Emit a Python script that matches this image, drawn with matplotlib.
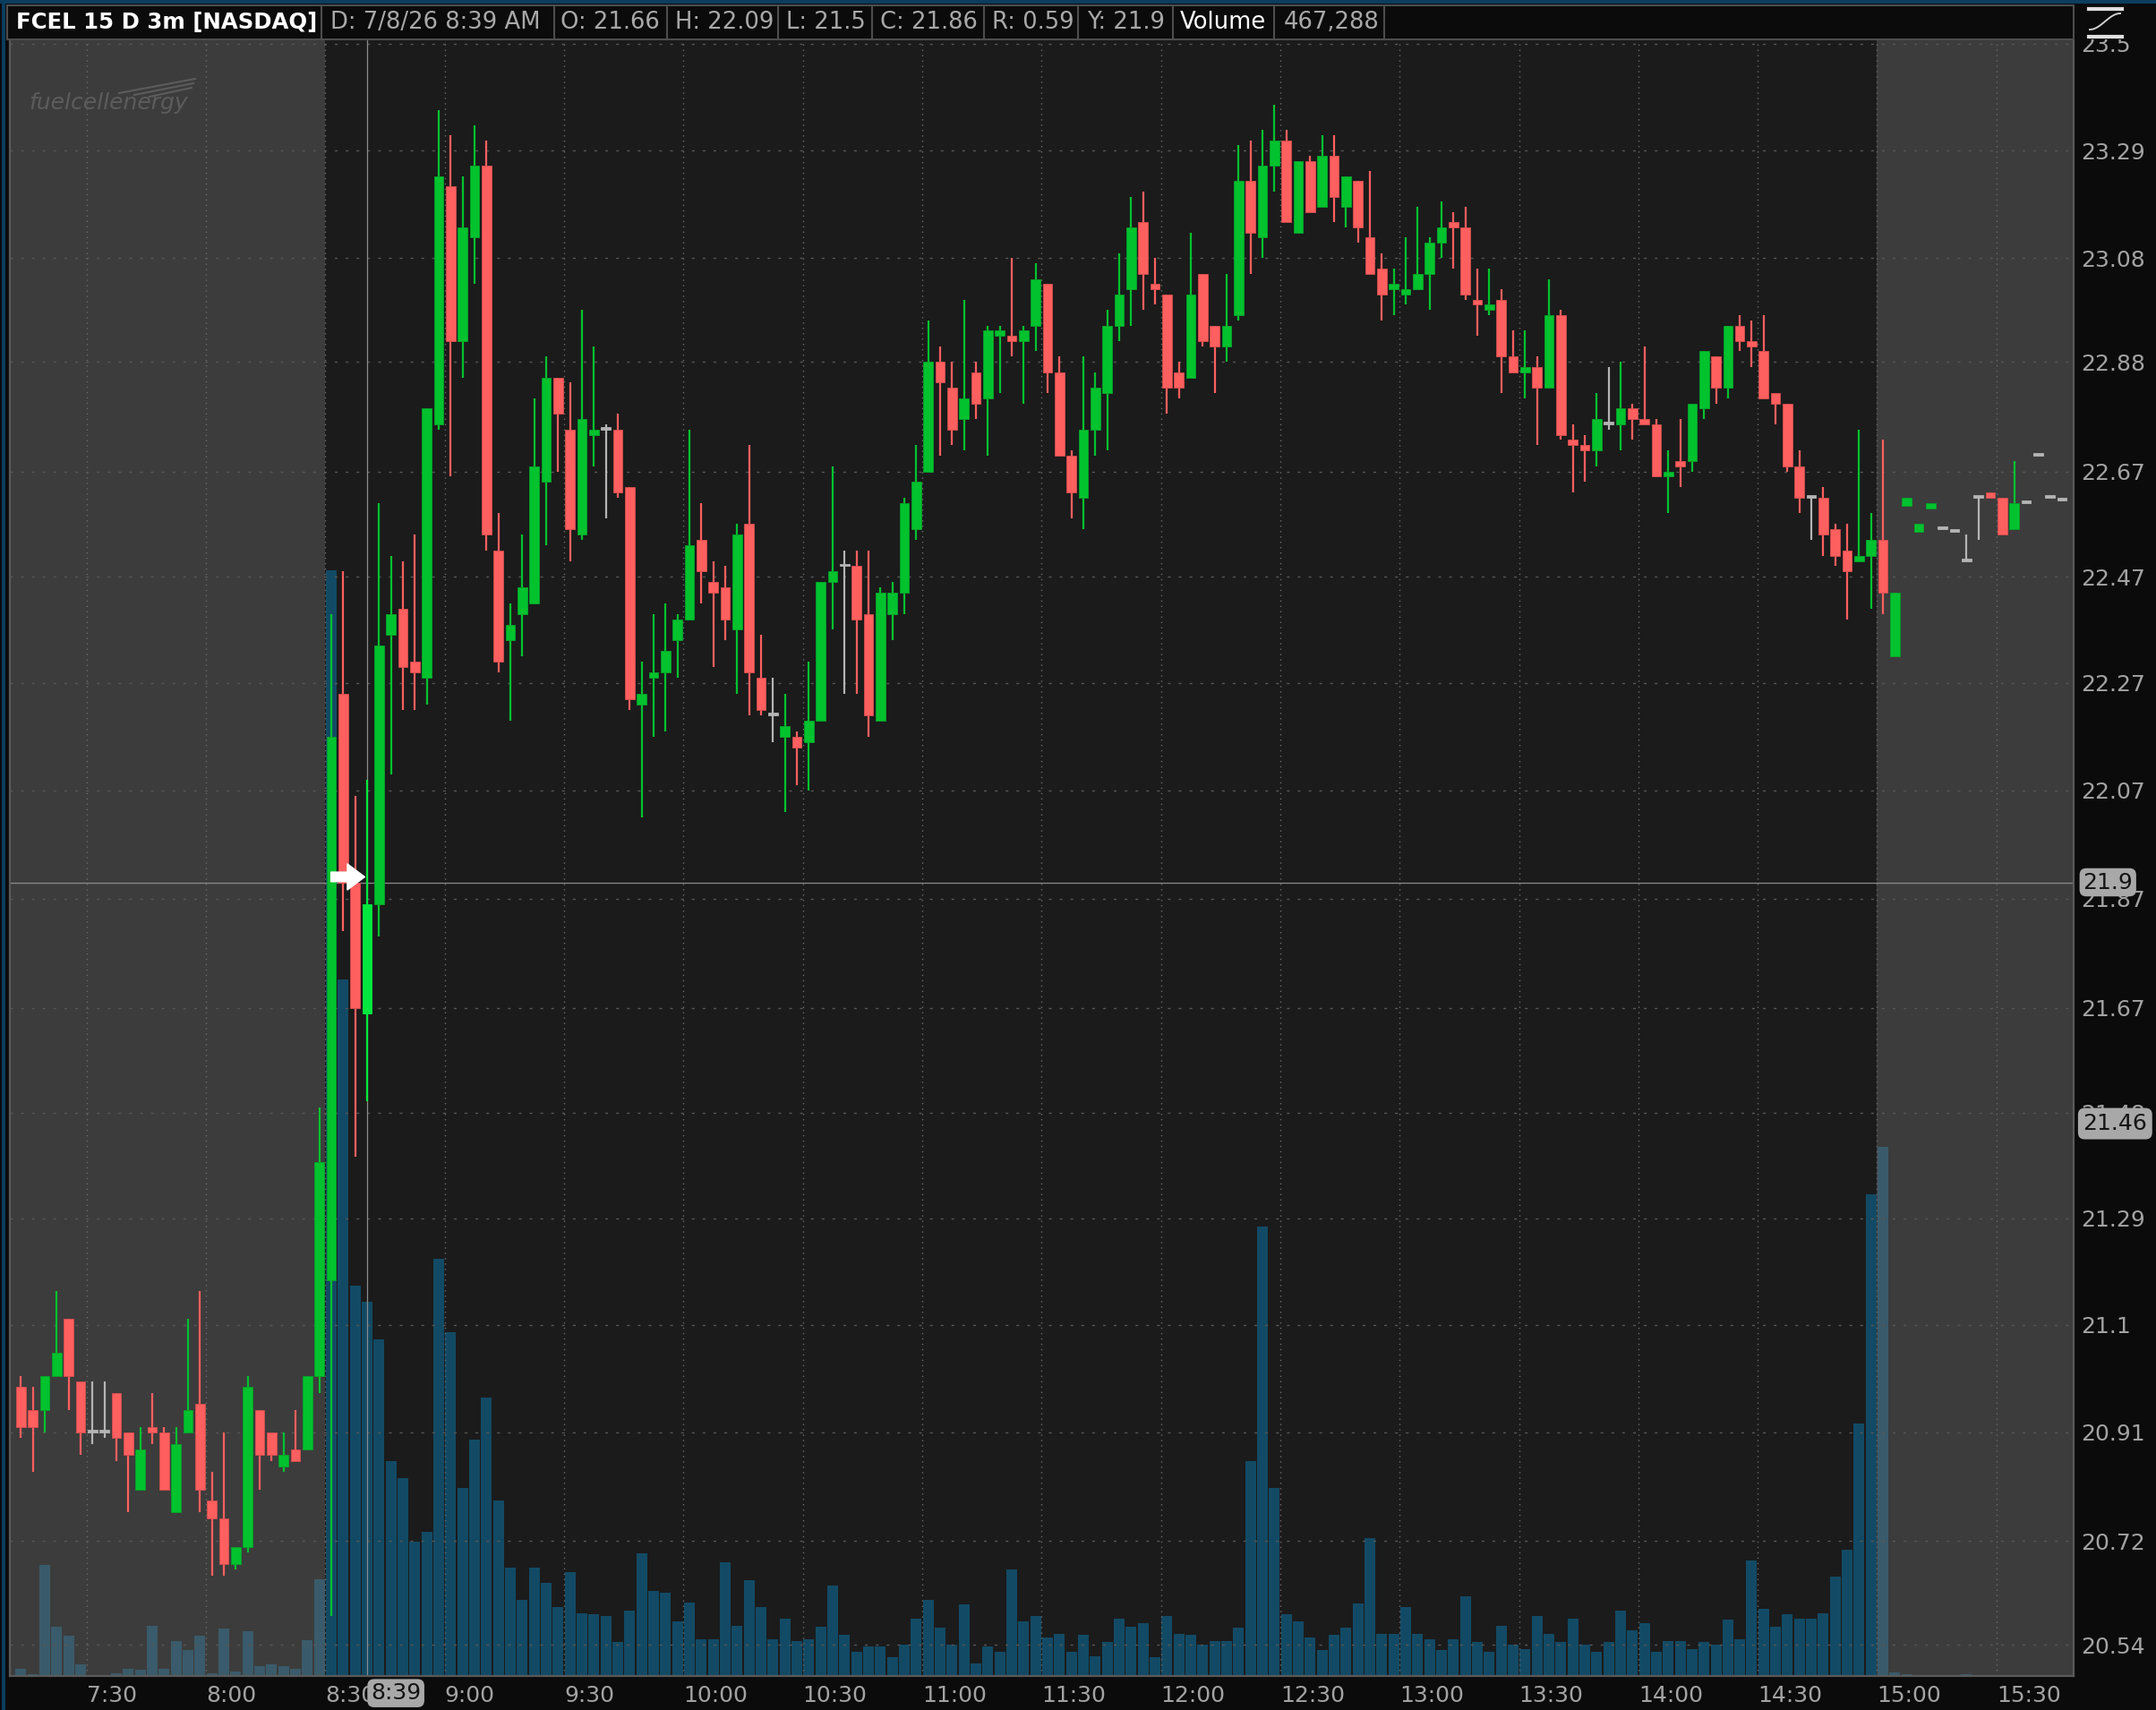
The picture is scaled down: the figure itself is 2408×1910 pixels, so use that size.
import numpy as np
import matplotlib
matplotlib.use("Agg")
import matplotlib.pyplot as plt
import matplotlib.transforms as mtransforms
from matplotlib.lines import Line2D
from matplotlib.patches import Rectangle
from matplotlib.ticker import NullLocator

# FCEL 3 minute bars (7:12 .. 15:45)
first_bar = "7:12"
bar_minutes = 3
session_open, session_close = "8:30", "15:00"
cursor_bar = "8:39"
cursor_price = 21.9
last_price = 21.46

opens = [
    20.99, 20.95, 20.95, 21.01, 21.11, 21.00, 20.91, 20.91, 20.98, 20.91,
    20.81, 20.92, 20.91, 20.77, 20.91, 20.96, 20.79, 20.76, 20.68, 20.71,
    20.95, 20.91, 20.85, 20.88, 20.88, 21.01,
    21.18, 22.25, 21.90, 21.66, 21.86, 22.36, 22.41, 22.31, 22.28, 22.76,
    23.22, 22.92, 23.12, 23.26, 22.52, 22.35, 22.40, 22.42, 22.65, 22.85,
    22.75, 22.55, 22.74, 22.75, 22.75, 22.64, 22.23, 22.28, 22.29, 22.35,
    22.39, 22.54, 22.46, 22.45, 22.37, 22.57, 22.28, 22.21, 22.17, 22.17,
    22.16, 22.20, 22.46, 22.49, 22.49, 22.40, 22.20, 22.40, 22.44, 22.56,
    22.67, 22.88, 22.83, 22.77, 22.86, 22.81, 22.93, 22.93, 22.92, 22.95,
    23.03, 22.86, 22.70, 22.62, 22.75, 22.82, 22.95, 23.02, 23.15, 23.03,
    23.01, 22.86, 22.85, 23.05, 22.95, 22.91, 22.97, 23.23, 23.12, 23.26,
    23.31, 23.13, 23.27, 23.18, 23.28, 23.18, 23.23, 23.12, 23.06, 23.02,
    23.01, 23.02, 23.05, 23.11, 23.15, 23.14, 23.00, 22.98, 23.00, 22.89,
    22.86, 22.87, 22.83, 22.97, 22.73, 22.72, 22.71, 22.76, 22.76, 22.79,
    22.77, 22.76, 22.66, 22.69, 22.69, 22.79, 22.89, 22.83, 22.95, 22.92,
    22.90, 22.82, 22.80, 22.68, 22.62, 22.62, 22.56, 22.52, 22.50, 22.51,
    22.54, 22.32, 22.605, 22.555, 22.60, 22.56, 22.555, 22.50, 22.62, 22.63,
    22.62, 22.56, 22.61, 22.70, 22.62, 22.615,
]
highs = [
    21.01, 20.99, 21.01, 21.16, 21.11, 21.00, 21.00, 21.00, 20.98, 20.91,
    20.92, 20.98, 20.92, 20.92, 21.11, 21.16, 20.84, 20.91, 20.71, 21.01,
    20.95, 20.91, 20.91, 20.95, 21.01, 21.49,
    22.40, 22.48, 22.06, 22.09, 22.61, 22.51, 22.50, 22.55, 22.79, 23.37,
    23.32, 23.24, 23.34, 23.31, 22.59, 22.42, 22.55, 22.81, 22.89, 22.85,
    22.84, 22.98, 22.91, 22.76, 22.78, 22.64, 22.31, 22.40, 22.42, 22.40,
    22.75, 22.61, 22.50, 22.49, 22.57, 22.72, 22.36, 22.28, 22.25, 22.18,
    22.31, 22.46, 22.68, 22.52, 22.52, 22.52, 22.45, 22.46, 22.62, 22.72,
    22.96, 22.91, 22.88, 23.00, 22.88, 22.95, 22.95, 23.08, 22.95, 23.07,
    23.03, 22.89, 22.71, 22.89, 22.86, 22.98, 23.09, 23.20, 23.21, 23.08,
    23.01, 22.88, 23.13, 23.05, 22.95, 23.05, 23.30, 23.31, 23.33, 23.38,
    23.33, 23.27, 23.28, 23.32, 23.32, 23.24, 23.23, 23.25, 23.09, 23.06,
    23.12, 23.18, 23.12, 23.19, 23.17, 23.18, 23.06, 23.06, 23.02, 22.94,
    22.94, 22.89, 23.04, 22.98, 22.76, 22.74, 22.82, 22.87, 22.88, 22.80,
    22.91, 22.77, 22.71, 22.77, 22.80, 22.90, 22.89, 22.95, 22.97, 22.96,
    22.97, 22.82, 22.80, 22.71, 22.62, 22.64, 22.57, 22.57, 22.75, 22.59,
    22.73, 22.44, 22.62, 22.57, 22.61, 22.56, 22.555, 22.55, 22.62, 22.63,
    22.62, 22.69, 22.61, 22.70, 22.62, 22.615,
]
lows = [
    20.90, 20.84, 20.91, 21.01, 20.95, 20.87, 20.89, 20.90, 20.86, 20.77,
    20.81, 20.89, 20.81, 20.77, 20.91, 20.77, 20.66, 20.66, 20.67, 20.70,
    20.81, 20.86, 20.84, 20.86, 20.88, 20.98,
    20.59, 21.81, 21.40, 21.50, 21.80, 22.10, 22.22, 22.22, 22.23, 22.75,
    22.66, 22.85, 23.03, 22.52, 22.29, 22.20, 22.32, 22.42, 22.53, 22.67,
    22.50, 22.54, 22.68, 22.58, 22.62, 22.22, 22.02, 22.17, 22.18, 22.28,
    22.39, 22.42, 22.30, 22.35, 22.25, 22.21, 22.21, 22.16, 22.03, 22.08,
    22.07, 22.20, 22.37, 22.25, 22.25, 22.17, 22.20, 22.35, 22.40, 22.54,
    22.67, 22.70, 22.72, 22.71, 22.77, 22.70, 22.82, 22.89, 22.80, 22.90,
    22.82, 22.70, 22.58, 22.56, 22.70, 22.71, 22.92, 22.95, 22.98, 22.99,
    22.78, 22.81, 22.85, 22.91, 22.82, 22.88, 22.96, 23.05, 23.08, 23.21,
    23.15, 23.13, 23.17, 23.18, 23.15, 23.14, 23.11, 23.05, 22.96, 22.97,
    22.99, 23.02, 22.98, 23.08, 23.06, 23.00, 22.93, 22.97, 22.82, 22.86,
    22.81, 22.72, 22.83, 22.73, 22.63, 22.65, 22.68, 22.75, 22.71, 22.73,
    22.76, 22.66, 22.59, 22.64, 22.67, 22.77, 22.80, 22.81, 22.90, 22.87,
    22.81, 22.76, 22.67, 22.59, 22.54, 22.51, 22.49, 22.39, 22.50, 22.41,
    22.40, 22.32, 22.605, 22.555, 22.60, 22.56, 22.555, 22.50, 22.54, 22.62,
    22.55, 22.56, 22.61, 22.70, 22.62, 22.615,
]
closes = [
    20.92, 20.92, 21.01, 21.05, 21.01, 20.91, 20.91, 20.91, 20.90, 20.87,
    20.88, 20.91, 20.81, 20.89, 20.95, 20.81, 20.76, 20.68, 20.71, 20.99,
    20.87, 20.87, 20.87, 20.86, 21.01, 21.39,
    22.17, 21.90, 21.67, 21.86, 22.34, 22.40, 22.30, 22.29, 22.79, 23.24,
    22.92, 23.14, 23.26, 22.55, 22.31, 22.38, 22.45, 22.68, 22.85, 22.78,
    22.56, 22.77, 22.75, 22.75, 22.63, 22.24, 22.25, 22.29, 22.33, 22.39,
    22.53, 22.48, 22.44, 22.39, 22.55, 22.29, 22.22, 22.21, 22.19, 22.15,
    22.20, 22.46, 22.48, 22.49, 22.39, 22.21, 22.44, 22.44, 22.61, 22.65,
    22.88, 22.84, 22.75, 22.81, 22.80, 22.94, 22.94, 22.92, 22.94, 23.04,
    22.86, 22.70, 22.63, 22.75, 22.83, 22.95, 23.01, 23.14, 23.05, 23.02,
    22.83, 22.83, 23.01, 22.92, 22.91, 22.95, 23.23, 23.13, 23.26, 23.31,
    23.15, 23.27, 23.17, 23.28, 23.20, 23.24, 23.14, 23.05, 23.01, 23.03,
    23.02, 23.05, 23.11, 23.14, 23.14, 23.01, 22.99, 22.99, 22.89, 22.86,
    22.87, 22.83, 22.97, 22.74, 22.72, 22.71, 22.77, 22.76, 22.79, 22.77,
    22.76, 22.66, 22.67, 22.68, 22.80, 22.90, 22.83, 22.95, 22.92, 22.91,
    22.81, 22.80, 22.68, 22.62, 22.62, 22.55, 22.51, 22.48, 22.51, 22.54,
    22.44, 22.44, 22.62, 22.57, 22.61, 22.56, 22.555, 22.50, 22.62, 22.62,
    22.55, 22.61, 22.61, 22.70, 22.62, 22.615,
]
volumes = [
    9400, 1900, 138000, 61000, 50000, 14000, 0, 0, 2800, 9400,
    7500, 63000, 9400, 43000, 32000, 50000, 2800, 59000, 5600, 56000,
    12000, 14000, 12000, 9400, 45000, 121000,
    1379000, 869000, 487000, 467288, 420000, 268000, 247000, 168000, 180000, 520000,
    429000, 235000, 295000, 347000, 219000, 135000, 95000, 135000, 116000, 86000,
    130000, 78000, 77000, 75000, 42000, 81000, 153000, 106000, 104000, 68000,
    92000, 46000, 46000, 142000, 63000, 119000, 86000, 46000, 72000, 43000,
    46000, 61000, 113000, 51000, 30000, 37000, 37000, 23000, 39000, 72000,
    95000, 60000, 39000, 89000, 16000, 37000, 30000, 133000, 68000, 75000,
    48000, 52000, 30000, 51000, 25000, 42000, 72000, 61000, 66000, 23000,
    75000, 52000, 51000, 39000, 43000, 43000, 60000, 268000, 561000, 235000,
    77000, 68000, 48000, 32000, 51000, 60000, 90000, 172000, 52000, 52000,
    86000, 52000, 46000, 32000, 46000, 99000, 42000, 30000, 63000, 39000,
    34000, 75000, 52000, 42000, 72000, 39000, 30000, 42000, 81000, 57000,
    66000, 30000, 43000, 43000, 34000, 42000, 39000, 70000, 46000, 144000,
    84000, 61000, 77000, 72000, 72000, 78000, 124000, 157000, 315000, 601000,
    660000, 5000, 2000, 0, 0, 0, 0, 2000, 0, 0,
    0, 0, 0, 0, 0, 0,
]

time_labels = ["7:30", "8:00", "8:30", "9:00", "9:30", "10:00", "10:30", "11:00",
               "11:30", "12:00", "12:30", "13:00", "13:30", "14:00", "14:30",
               "15:00", "15:30"]
price_labels = ["23.5", "23.29", "23.08", "22.88", "22.67", "22.47", "22.27", "22.07",
                "21.87", "21.67", "21.48", "21.29", "21.1", "20.91", "20.72", "20.54"]

header_texts = ["FCEL 15 D 3m [NASDAQ]", "D: 7/8/26 8:39 AM", "O: 21.66", "H: 22.09",
                "L: 21.5", "C: 21.86", "R: 0.59", "Y: 21.9", "Volume", "467,288"]


def to_min(s):
    h, m = s.split(":")
    return int(h) * 60 + int(m)


opens = np.array(opens)
highs = np.array(highs)
lows = np.array(lows)
closes = np.array(closes)
volumes = np.array(volumes)

n = len(opens)
bar_start = to_min(first_bar) + bar_minutes * np.arange(n)
xc = bar_start + bar_minutes / 2
t_open, t_close = to_min(session_open), to_min(session_close)
extended = (bar_start < t_open) | (bar_start >= t_close)

GREEN, GREEN_E = "#02c22e", "#03a52a"
RED, RED_E = "#fe5f5f", "#d94e4e"
GRAY = "#b4b4b4"
body_c, edge_c = [], []
for o, c in zip(opens, closes):
    if c > o:
        body_c.append(GREEN); edge_c.append(GREEN_E)
    elif c < o:
        body_c.append(RED); edge_c.append(RED_E)
    else:
        body_c.append(GRAY); edge_c.append(GRAY)
hi = int(np.where(bar_start == to_min(cursor_bar))[0][0])
body_c[hi] = "#00e83e"; edge_c[hi] = "#00e83e"

# figure / layout (pixels)
W, H = 2408, 1910
L, R, T, B = 11, 2316, 45, 1872
fig = plt.figure(figsize=(W / 100, H / 100), dpi=100, facecolor="#0b0b0b")
pos = [L / W, 1 - B / H, (R - L) / W, (B - T) / H]

xmin, xmax = 430.7, 949.4

# volume layer (bottom)
axv = fig.add_axes(pos)
axv.set_facecolor("#1b1b1b")
axv.axvspan(xmin, t_open, color="#3c3c3c", lw=0)
axv.axvspan(t_close, xmax, color="#3c3c3c", lw=0)
vcol = np.where(extended, "#3a5b6b", "#124a65")
axv.bar(xc, volumes, width=bar_minutes * 0.9, color=vcol, lw=0)
axv.set_ylim(0, 2.04e6)
axv.set_xlim(xmin, xmax)
axv.set_xticks([])
axv.set_yticks([])
for s in axv.spines.values():
    s.set_visible(False)

# price layer (top)
ax = fig.add_axes(pos)
ax.patch.set_visible(False)
ax.set_yscale("log")
ax.set_xlim(xmin, xmax)
ax.set_ylim(20.486, 23.507)

tick_vals = [float(p) for p in price_labels]
ax.yaxis.set_minor_locator(NullLocator())
ax.set_yticks(tick_vals)
ax.set_yticklabels(price_labels)
ax.yaxis.tick_right()
ax.set_xticks([to_min(t) for t in time_labels])
ax.set_xticklabels(time_labels)
ax.xaxis.set_minor_locator(NullLocator())
for lbl in ax.get_xticklabels():
    lbl.set_horizontalalignment("left")
ax.tick_params(axis="both", length=0, labelsize=18, labelcolor="#a3a3a3")
ax.tick_params(axis="y", pad=6)
ax.tick_params(axis="x", pad=7)

ax.grid(axis="y", color="#575757", lw=1, linestyle=(0, (2.2, 6.5)), zorder=0)
ax.grid(axis="x", color="#6a6a6a", lw=1, linestyle=(0, (1, 3.3)), zorder=0)
ax.set_axisbelow(True)
for side in ["left", "right", "bottom"]:
    ax.spines[side].set_color("#5a5a5a")
    ax.spines[side].set_linewidth(1.6)
ax.spines["top"].set_visible(False)

# crosshair
x_cur = xc[hi]
ax.axhline(cursor_price, color="#8c8c8c", lw=0.9, zorder=1)
ax.axvline(x_cur, color="#8c8c8c", lw=0.9, zorder=1)

# candles
bottoms = np.minimum(opens, closes)
heights = np.maximum(np.abs(closes - opens), 0.0045)
ax.vlines(xc, lows, highs, colors=body_c, lw=1.6, zorder=3)
ax.bar(xc, heights, bottom=bottoms, width=bar_minutes * 0.8, color=body_c,
       edgecolor=edge_c, linewidth=0.6, zorder=4)

ax.annotate("", xy=(x_cur - 0.6, cursor_price + 0.01), xytext=(t_open + 1.4, cursor_price + 0.01),
            arrowprops=dict(arrowstyle="simple,head_length=1.0,head_width=1.5,tail_width=0.55",
                            mutation_scale=14, fc="white", ec="white", shrinkA=0, shrinkB=0),
            zorder=6)

# value boxes on the axes
ty = mtransforms.blended_transform_factory(ax.transAxes, ax.transData)
box = dict(boxstyle="round,pad=0.15,rounding_size=0.3", fc="#a8a8a8", ec="none")
box2 = dict(boxstyle="round,pad=0.22,rounding_size=0.3", fc="#a8a8a8", ec="none")
ax.text(1.0045, cursor_price, str(cursor_price), transform=ty, ha="left", va="center",
        fontsize=18, color="#141414", bbox=box, clip_on=False, zorder=8)
ax.text(1.0045, last_price, f"{last_price:.2f}", transform=ty, ha="left", va="center",
        fontsize=18, color="#141414", bbox=box2, clip_on=False, zorder=8)
tx = mtransforms.blended_transform_factory(ax.transData, ax.transAxes)
ax.text(x_cur + 0.9, -0.0105, cursor_bar, transform=tx, ha="left", va="center",
        fontsize=18, color="#141414", bbox=box, clip_on=False, zorder=8)

# logo
ax.text(0.0092, 0.958, "fuelcellenergy", transform=ax.transAxes, fontsize=18,
        style="italic", color="#5c5c5c", ha="left", va="baseline", zorder=1)
for k in range(3):
    x0 = (133 + 17 * k - L) / (R - L)
    x1 = (218 - 2 * k - L) / (R - L)
    y0 = (B - (104 + 2 * k)) / (B - T)
    y1 = (B - (88 + 5 * k)) / (B - T)
    ax.add_line(Line2D([x0, x1], [y0, y1], transform=ax.transAxes,
                       color="#5c5c5c", lw=1.5, zorder=1))

# header bar
fig.add_artist(Rectangle((0, 1 - 44 / H), 1, 44 / H, transform=fig.transFigure,
                         fc="#0b0b0b", ec="none", zorder=10))
fig.add_artist(Rectangle((0, 1 - 4 / H), 1, 4 / H, transform=fig.transFigure,
                         fc="#0b3d5e", ec="none", zorder=11))
fig.add_artist(Rectangle((2 / W, 0), 4 / W, 1, transform=fig.transFigure,
                         fc="#0b3d5e", ec="none", zorder=11))
fig.add_artist(Rectangle((8 / W, 1 - 44 / H), (R - 8) / W, 38 / H, transform=fig.transFigure,
                         fc="#0b0b0b", ec="#4d4d4d", lw=1.5, zorder=11))
sep_px = [359, 619, 745, 869, 974, 1099, 1204, 1310, 1423, 1546]
txt_px = [18, 369, 626, 754, 878, 983, 1108, 1214, 1318, 1434]
for sx in sep_px:
    fig.add_artist(Line2D([sx / W, sx / W], [1 - 43 / H, 1 - 7 / H], transform=fig.transFigure,
                          color="#4d4d4d", lw=1.5, zorder=12))
for i, (s, px) in enumerate(zip(header_texts, txt_px)):
    bold = i == 0
    col = "white" if i in (0, 8) else "#a8a8a8"
    fig.text(px / W, 1 - 25 / H, s, fontsize=17.6 if bold else 18.6, color=col,
             fontweight="bold" if bold else "normal", ha="left", va="center", zorder=13)

# small study icon top right
sx = np.linspace(2334, 2368, 40)
sy = 24 + 9 * np.cos(np.pi * (sx - 2334) / 34)
fig.add_artist(Line2D(sx / W, 1 - sy / H, transform=fig.transFigure, color="#d0d0d0", lw=1.4, zorder=13))
fig.add_artist(Line2D([2333 / W, 2370 / W], [1 - 10 / H, 1 - 10 / H], transform=fig.transFigure,
                      color="#e0e0e0", lw=3, zorder=13))
fig.add_artist(Line2D([2333 / W, 2370 / W], [1 - 41 / H, 1 - 41 / H], transform=fig.transFigure,
                      color="#e0e0e0", lw=3, zorder=13))

fig.savefig("out.png", dpi=100, facecolor=fig.get_facecolor())
